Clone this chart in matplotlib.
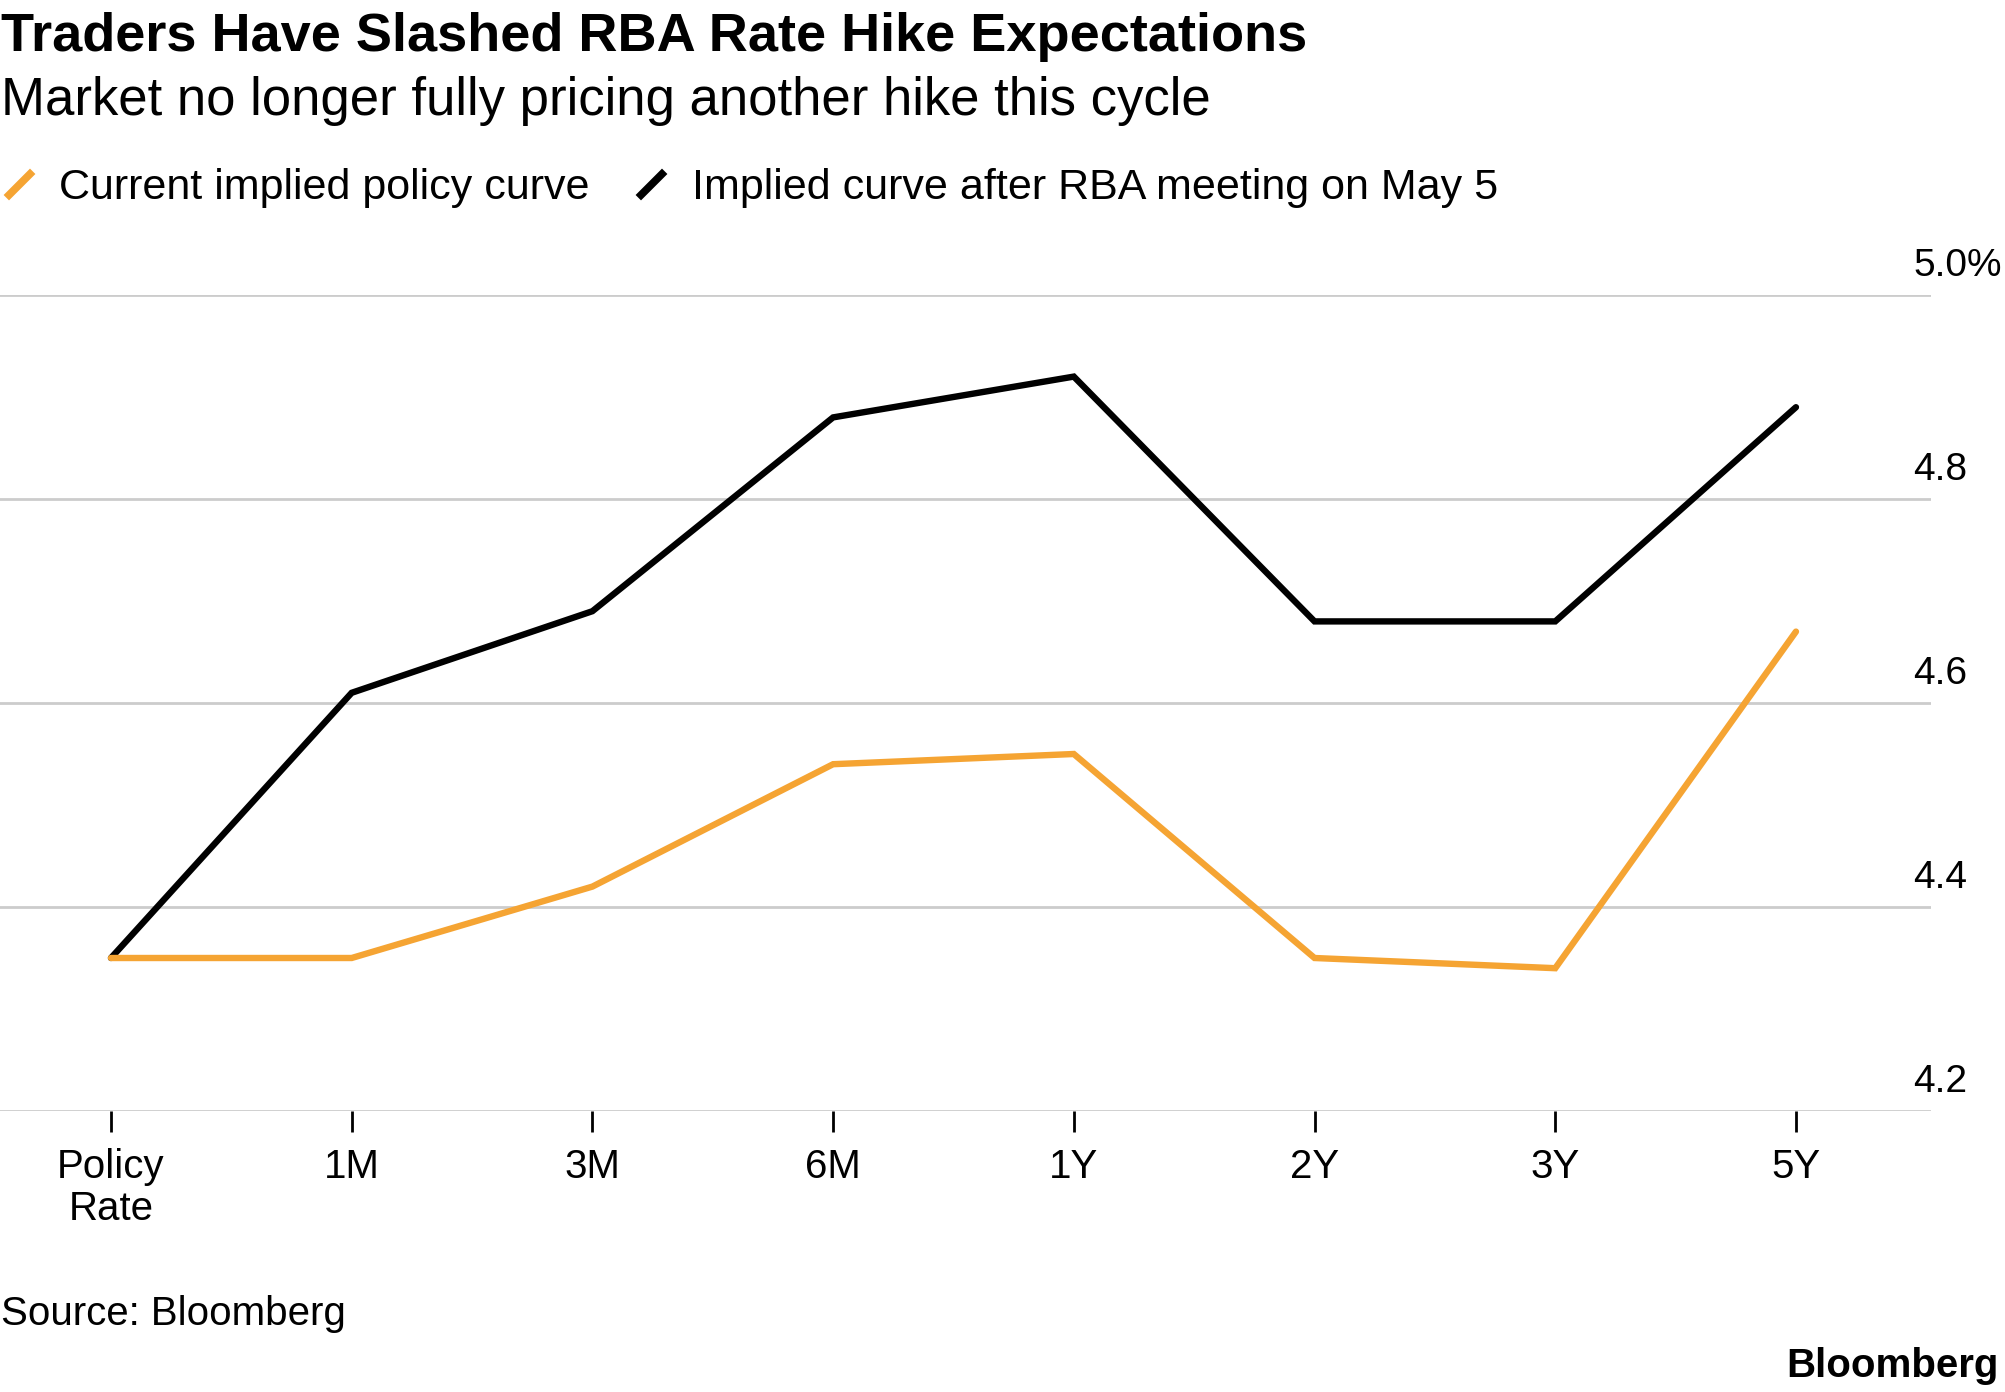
import matplotlib
matplotlib.use("Agg")
import matplotlib.pyplot as plt
from matplotlib.lines import Line2D
from matplotlib.path import Path
from matplotlib.transforms import blended_transform_factory

# data
tenors = ["Policy\nRate", "1M", "3M", "6M", "1Y", "2Y", "3Y", "5Y"]
current_curve = [4.35, 4.35, 4.42, 4.54, 4.55, 4.35, 4.34, 4.67]
after_meeting = [4.35, 4.61, 4.69, 4.88, 4.92, 4.68, 4.68, 4.89]
y_ticks = [4.2, 4.4, 4.6, 4.8, 5.0]
y_labels = ["4.2", "4.4", "4.6", "4.8", "5.0%"]

orange = "#F5A433"
grid_col = "#cccccc"

plt.rcParams["font.family"] = ["Liberation Sans", "DejaVu Sans"]

W, H = 2005, 1392
fig = plt.figure(figsize=(W / 100, H / 100), dpi=100)
ax = fig.add_axes([0, 1 - 1111 / H, 1931 / W, (1111 - 295) / H])

x = list(range(len(tenors)))
ax.plot(x, after_meeting, color="black", lw=4.6, solid_joinstyle="miter",
        solid_capstyle="round", clip_on=False, zorder=3)
ax.plot(x, current_curve, color=orange, lw=4.6, solid_joinstyle="miter",
        solid_capstyle="round", clip_on=False, zorder=4)

ax.set_xlim(-0.461, 7.561)
ax.set_ylim(4.2, 5.0)
ax.set_yticks(y_ticks)
ax.yaxis.grid(True, color=grid_col, lw=2)
ax.set_axisbelow(True)
ax.tick_params(axis="y", length=0, labelleft=False, labelright=False)
for s in ax.spines.values():
    s.set_visible(False)

ax.set_xticks(x)
ax.set_xticklabels(tenors, fontsize=29, linespacing=1.1)
ax.tick_params(axis="x", length=15, width=2, color="black", pad=12)

# y labels sit just above each gridline, on the right
tr = blended_transform_factory(fig.transFigure, ax.transData)
for v, s in zip(y_ticks, y_labels):
    ax.text(1913 / W, v + 0.019, s, transform=tr, fontsize=28,
            ha="left", va="baseline")

# titles
fig.text(0.0005, 1 - 51 / H, "Traders Have Slashed RBA Rate Hike Expectations",
         fontsize=39, fontweight="bold", va="baseline")
fig.text(0.0005, 1 - 115 / H, "Market no longer fully pricing another hike this cycle",
         fontsize=38, va="baseline")

# legend with slash markers
slash = Path([(-0.5, -0.5), (0.5, 0.5)], [Path.MOVETO, Path.LINETO])
handles = [
    Line2D([], [], color=orange, marker=slash, linestyle="none",
           markersize=19, markeredgewidth=5.5),
    Line2D([], [], color="black", marker=slash, linestyle="none",
           markersize=19, markeredgewidth=5.5),
]
fig.legend(handles, ["Current implied policy curve",
                     "Implied curve after RBA meeting on May 5"],
           loc="center left", bbox_to_anchor=(0.0, 1 - 188 / H), ncol=2,
           frameon=False, fontsize=31, handlelength=0.88, handletextpad=0.49,
           columnspacing=1.0, borderpad=0, borderaxespad=0)

fig.text(0.0005, 1 - 1325 / H, "Source: Bloomberg", fontsize=29, va="baseline")
fig.text(0.997, 1 - 1377 / H, "Bloomberg", fontsize=29, fontweight="bold",
         ha="right", va="baseline")

fig.savefig("out.png", dpi=100)
